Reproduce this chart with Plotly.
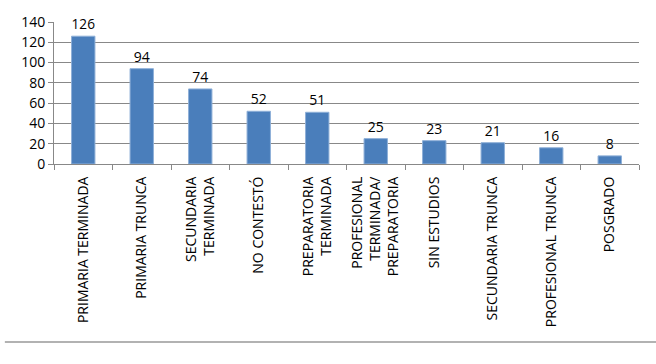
import plotly.graph_objects as go

categories = ["PRIMARIA TERMINADA", "PRIMARIA TRUNCA", "SECUNDARIA<br>TERMINADA",
              "NO CONTESTÓ", "PREPARATORIA<br>TERMINADA",
              "PROFESIONAL<br>TERMINADA/<br>PREPARATORIA", "SIN ESTUDIOS",
              "SECUNDARIA TRUNCA", "PROFESIONAL TRUNCA", "POSGRADO"]
values = [126, 94, 74, 52, 51, 25, 23, 21, 16, 8]
y_ticks = [0, 20, 40, 60, 80, 100, 120, 140]

fig = go.Figure(go.Bar(
    x=categories, y=values, text=values, textposition="outside",
    textfont=dict(family="Open Sans", size=14, color="#000"),
    marker=dict(color="#4a7ebb", line=dict(color="#8fb0d8", width=1)),
    cliponaxis=False,
))

fig.update_layout(
    width=656, height=364,
    margin=dict(l=54, r=17, t=14, b=200),
    paper_bgcolor="white", plot_bgcolor="white",
    bargap=0.6, showlegend=False,
    font=dict(family="Open Sans", color="#000"),
    xaxis=dict(tickangle=-90, tickfont=dict(size=14), showline=True, linecolor="#888",
               ticks="outside", tickson="boundaries", ticklen=5, tickcolor="#888",
               ticklabelstandoff=6),
    yaxis=dict(range=[0, 140], tickvals=y_ticks, tickfont=dict(size=14),
               showline=True, linecolor="#888", ticks="outside", ticklen=5,
               tickcolor="#888", showgrid=True, gridcolor="#888", gridwidth=1,
               zeroline=False),
    shapes=[dict(type="line", xref="paper", yref="paper", x0=-0.084, x1=1.03,
                 y0=-1.253, y1=-1.253, line=dict(color="#999", width=1.5))],
)

fig.write_html("out.html")
